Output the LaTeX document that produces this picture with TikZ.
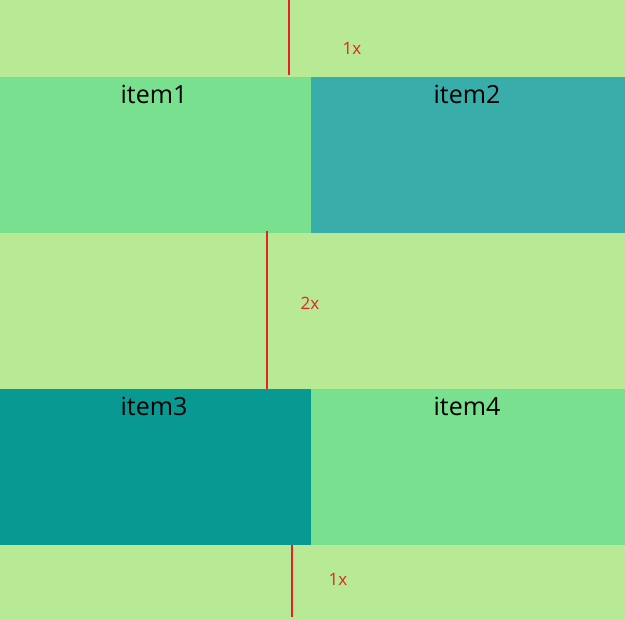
\documentclass[tikz,border=0pt]{standalone}
\usepackage{fontspec}
\setmainfont{Open Sans}
\definecolor{bgc}{HTML}{B8E994}
\definecolor{lgc}{HTML}{78E08F}
\definecolor{tlc}{HTML}{38ADA9}
\definecolor{dtc}{HTML}{079992}
\definecolor{rdc}{HTML}{E8202A}
\begin{document}
\begin{tikzpicture}[x=1pt,y=-1pt,
  cell/.style={draw=none,minimum width=#1pt,minimum height=156pt,inner sep=0pt,outer sep=0pt,anchor=north west},
  lbl/.style={font=\fontsize{25}{27}\selectfont,anchor=base,inner sep=0pt},
  gap/.style={font=\fontsize{17}{19}\selectfont,text=rdc,inner sep=0pt},
  rule/.style={draw=rdc,line width=2pt}]
\fill[bgc] (0,0) rectangle (625,620);
\useasboundingbox (0,0) rectangle (625,620);
\node[cell=311,fill=lgc] (i1) at (0,77) {};
\node[cell=314,fill=tlc] (i2) at (311,77) {};
\node[cell=311,fill=dtc] (i3) at (0,389) {};
\node[cell=314,fill=lgc] (i4) at (311,389) {};
\node[lbl] (t1) at (154,104) {item1};
\node[lbl] (t2) at (467,104) {item2};
\node[lbl] (t3) at (154,416) {item3};
\node[lbl] (t4) at (467,416) {item4};
\coordinate (a1) at (289,0);
\coordinate (a2) at (289,75);
\coordinate (b1) at (267,231);
\coordinate (b2) at (267,389);
\coordinate (c1) at (292,545);
\coordinate (c2) at (292,617);
\draw[rule] (a1) -- (a2);
\draw[rule] (b1) -- (b2);
\draw[rule] (c1) -- (c2);
\node[gap] (g1) at (352,48) {1x};
\node[gap] (g2) at (310,303) {2x};
\node[gap] (g3) at (338,579) {1x};
\end{tikzpicture}
\end{document}
